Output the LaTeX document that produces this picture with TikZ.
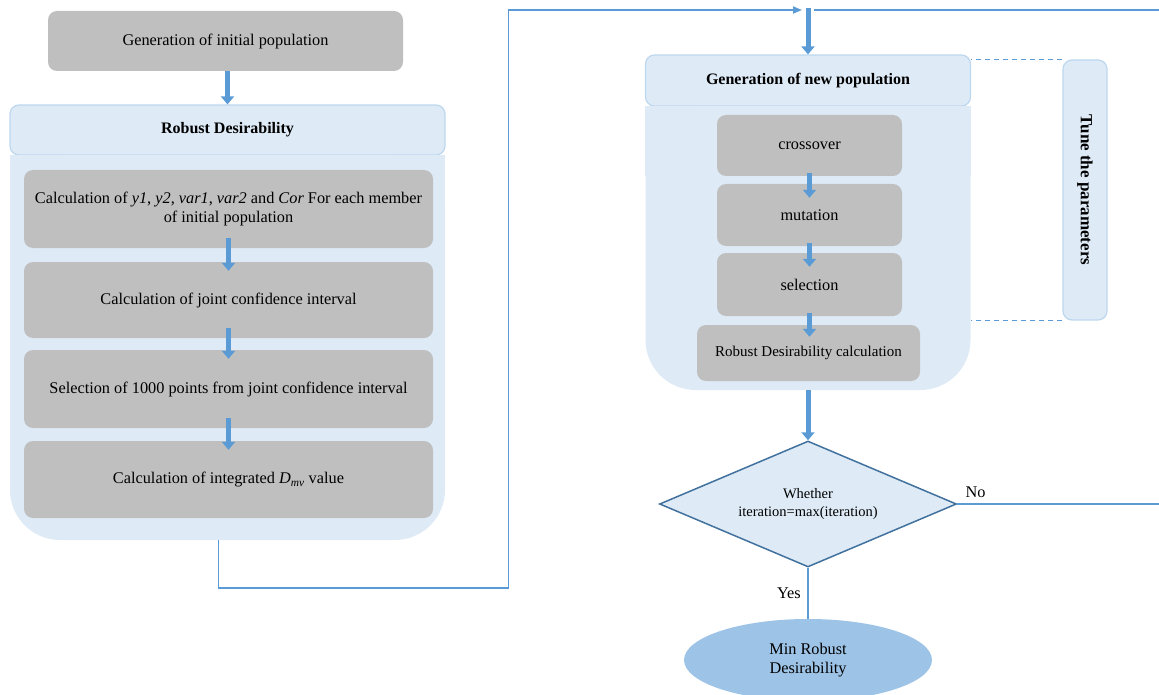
\documentclass[tikz,border=0pt]{standalone}
\usepackage{fontspec}
\setmainfont{Liberation Serif}
\usetikzlibrary{shapes.geometric,arrows.meta}
\definecolor{boxgray}{HTML}{BFBFBF}
\definecolor{paleblue}{HTML}{DEEBF7}
\definecolor{rimblue}{HTML}{BDD7EE}
\definecolor{flowblue}{HTML}{5B9BD5}
\definecolor{darkrim}{HTML}{41719C}
\definecolor{endblue}{HTML}{9DC3E6}
\begin{document}
\begin{tikzpicture}[x=1pt,y=-1pt,
    font=\fontsize{16.3pt}{19pt}\selectfont,
    gbox/.style={rectangle, rounded corners=9pt, fill=boxgray, align=center},
    hdr/.style={rectangle, rounded corners=9pt, fill=paleblue, draw=rimblue, line width=1.2pt, font=\fontsize{16pt}{19pt}\selectfont\bfseries},
    body/.style={rectangle, rounded corners=50pt, fill=paleblue, inner sep=0pt},
    flow/.style={draw=flowblue, line width=5pt, -{Triangle[length=8pt,width=13pt]}},
    link/.style={draw=flowblue, line width=1.8pt}]
  \useasboundingbox (0,0) rectangle (1159,695);

  \node[gbox, minimum width=355pt, minimum height=60pt] (geninit) at (225.5,41) {Generation of initial population};
  \node[hdr, minimum width=435pt, minimum height=50pt] (rdhead) at (227.5,130) {Robust Desirability};
  \node[body, minimum width=435pt, minimum height=385pt] (rdbody) at (227.5,347.5) {};
  \fill[paleblue] (rdbody.north west) rectangle ([yshift=-70pt]rdbody.north east);

  \node[gbox, minimum width=409pt, minimum height=78pt] (calcy) at (228.5,209) {Calculation of \textit{y1}, \textit{y2}, \textit{var1}, \textit{var2} and \textit{Cor} For each member\\of initial population};
  \node[gbox, minimum width=409pt, minimum height=76pt] (jointci) at (228.5,300) {Calculation of joint confidence interval};
  \node[gbox, minimum width=409pt, minimum height=78pt] (selpts) at (228.5,389) {Selection of 1000 points from joint confidence interval};
  \node[gbox, minimum width=409pt, minimum height=77pt] (dmv) at (228.5,479.5) {Calculation of integrated \textit{D}\textsubscript{\textit{mv}} value};

  \draw[flow] (geninit.south -| rdhead.north) -- (rdhead.north);
  \draw[flow] ([yshift=10pt]calcy.south) -- ([yshift=-9pt]jointci.north);
  \draw[flow] ([yshift=10pt]jointci.south) -- ([yshift=-9pt]selpts.north);
  \draw[flow] ([yshift=10pt]selpts.south) -- ([yshift=-9pt]dmv.north);

  \node[hdr, minimum width=325pt, minimum height=51pt] (newhead) at (808,80.5) {Generation of new population};
  \node[body, minimum width=325pt, minimum height=284pt] (newbody) at (808,248) {};
  \fill[paleblue] (newbody.north west) rectangle ([yshift=-70pt]newbody.north east);

  \node[gbox, minimum width=185pt, minimum height=61pt] (cross) at (809.5,145.5) {crossover};
  \node[gbox, minimum width=185pt, minimum height=62pt] (mut) at (809.5,215) {mutation};
  \node[gbox, minimum width=185pt, minimum height=63pt] (sel) at (809.5,284.5) {selection};
  \node[gbox, minimum width=223pt, minimum height=56pt, font=\fontsize{15pt}{18pt}\selectfont] (rdcalc) at (808.5,353) {Robust Desirability calculation};

  \draw[flow] ([yshift=3pt]cross.south) -- ([yshift=-14pt]mut.north);
  \draw[flow] ([yshift=3pt]mut.south) -- ([yshift=-14pt]sel.north);
  \draw[flow] ([yshift=3pt]sel.south) -- ([yshift=-12pt]sel.south |- rdcalc.north);

  \node[hdr, rotate=-90, minimum width=260pt, minimum height=44pt, font=\fontsize{17pt}{20pt}\selectfont\bfseries] (tune) at (1085,190) {Tune the parameters};
  \draw[link, line width=1.5pt, dash pattern=on 5pt off 4pt] (tune.south west) -- (tune.south west -| newbody.east);
  \draw[link, line width=1.5pt, dash pattern=on 5pt off 4pt] (tune.south east) -- (tune.south east -| newbody.east);

  \node[diamond, aspect=2.36, fill=paleblue, draw=darkrim, line width=1.5pt, minimum width=297pt, minimum height=126pt, align=center, inner sep=0pt, font=\fontsize{14.5pt}{18pt}\selectfont] (check) at (808,504) {Whether\\iteration=max(iteration)};
  \node[ellipse, fill=endblue, minimum width=248pt, minimum height=82pt, align=center, inner sep=0pt] (minrd) at (808,660) {Min Robust\\Desirability};

  \coordinate (merge) at (808,10);
  \draw[flow] ([yshift=2pt]merge) -- (newhead.north);
  \draw[flow] (newbody.south) -- (check.north);
  \draw[link, -{Triangle[length=9pt,width=7pt]}] ([xshift=-9pt]rdbody.south) -- ++(0,48) -- ++(290,0) |- ([xshift=-6pt]merge);
  \draw[link] (check.east) -- (1163,504) node[pos=0.02, above right, yshift=2pt] {No} -- (1163,10) -- ([xshift=6pt]merge);
  \draw[link] (check.south) -- (minrd.north) node[midway, left, xshift=-3pt] {Yes};
\end{tikzpicture}
\end{document}
